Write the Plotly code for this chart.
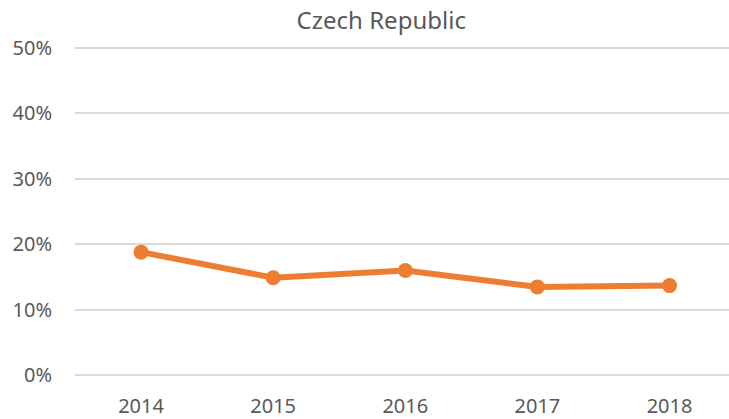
import plotly.graph_objects as go

# Data
years = ["2014", "2015", "2016", "2017", "2018"]
share = [0.188, 0.149, 0.160, 0.135, 0.137]
y_ticks = [0, 0.1, 0.2, 0.3, 0.4, 0.5]
y_tick_labels = ["0%", "10%", "20%", "30%", "40%", "50%"]

fig = go.Figure()
fig.add_trace(
    go.Scatter(
        x=years,
        y=share,
        mode="lines+markers",
        line=dict(color="#ED7D31", width=6),
        marker=dict(color="#ED7D31", size=15),
        showlegend=False,
    )
)

font_family = "Noto Sans, Open Sans, sans-serif"
fig.update_layout(
    width=729,
    height=419,
    paper_bgcolor="white",
    plot_bgcolor="white",
    margin=dict(l=75, r=0, t=41, b=34),
    title=dict(
        text="Czech Republic",
        x=0.523,
        xanchor="center",
        y=0.952,
        yanchor="middle",
        font=dict(family=font_family, size=24, color="#595959"),
    ),
    font=dict(family=font_family, color="#595959"),
)
fig.update_xaxes(
    type="category",
    range=[-0.5, 4.45],
    showgrid=False,
    showline=False,
    zeroline=False,
    ticks="",
    ticklabelstandoff=10,
    tickfont=dict(size=20, color="#595959"),
)
fig.update_yaxes(
    range=[-0.01, 0.51],
    tickvals=y_ticks,
    ticktext=y_tick_labels,
    showgrid=True,
    gridcolor="#D9D9D9",
    gridwidth=1.5,
    zeroline=False,
    showline=False,
    ticks="",
    ticklabelstandoff=22,
    tickfont=dict(size=20, color="#595959"),
)

# drop the default page margin so the figure sits at the window corner
fig.write_html(
    "out.html",
    config={"displayModeBar": False},
    post_script="document.body.style.margin='0';document.body.style.overflow='hidden';",
)
